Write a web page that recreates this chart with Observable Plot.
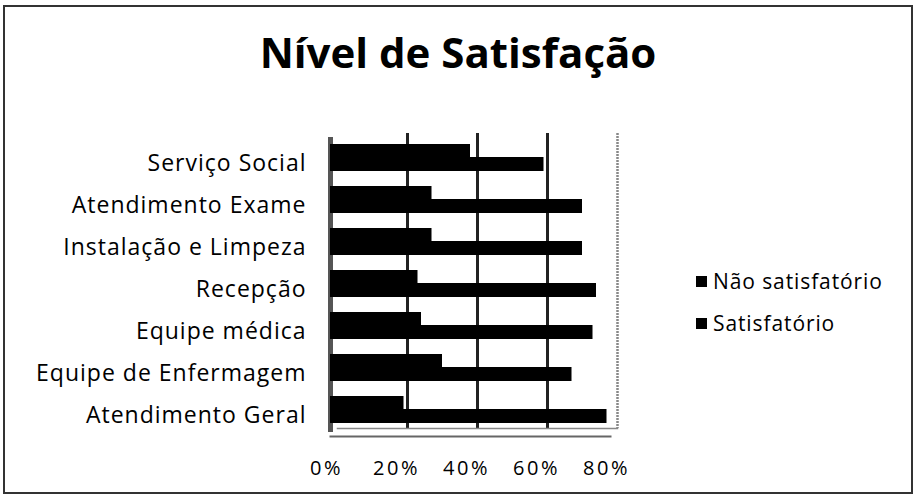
<!DOCTYPE html>
<html>
<head>
<meta charset="utf-8">
<script src="https://cdn.jsdelivr.net/npm/d3@7"></script>
<script src="https://cdn.jsdelivr.net/npm/@observablehq/plot@0.6"></script>
<style>
  html, body { margin: 0; padding: 0; background: #fff; }
  #wrap { position: relative; width: 916px; height: 498px; overflow: hidden; font-family: "Open Sans", sans-serif; }
  #border { position: absolute; left: 3px; top: 5px; width: 906px; height: 485px; border: 2px solid #333; pointer-events: none; }
  #title { position: absolute; left: 0; width: 916px; top: 23px; text-align: center; font-size: 42px; font-weight: 700; color: #000; }
  #chart { position: absolute; left: 0; top: 0; }
  .leg { position: absolute; left: 696px; font-size: 21px; letter-spacing: 0.9px; color: #000; display: flex; align-items: center; }
  .leg span.sw { display: inline-block; width: 11px; height: 11px; background: #000; margin-right: 6px; }
</style>
</head>
<body>
<div id="wrap">
  <div id="chart"></div>
  <div id="title">Nível de Satisfação</div>
  <div class="leg" id="leg1" style="top:267px"><span class="sw"></span><span class="lt"></span></div>
  <div class="leg" id="leg2" style="top:309px"><span class="sw"></span><span class="lt"></span></div>
  <div id="border"></div>
</div>
<script>
const categories = ["Serviço Social", "Atendimento Exame", "Instalação e Limpeza", "Recepção", "Equipe médica", "Equipe de Enfermagem", "Atendimento Geral"];
const seriesNames = ["Não satisfatório", "Satisfatório"];
const naoSatisfatorio = [0.40, 0.29, 0.29, 0.25, 0.26, 0.32, 0.21];
const satisfatorio = [0.61, 0.72, 0.72, 0.76, 0.75, 0.69, 0.79];
const xTicks = [0, 0.2, 0.4, 0.6, 0.8];

const nao = categories.map((c, i) => ({cat: c, value: naoSatisfatorio[i]}));
const sat = categories.map((c, i) => ({cat: c, value: satisfatorio[i]}));

const plot = Plot.plot({
  width: 916,
  height: 498,
  marginLeft: 330,
  marginRight: 306,
  marginTop: 141,
  marginBottom: 62,
  style: {fontFamily: "'Open Sans', sans-serif", background: "transparent"},
  x: {domain: [0, 0.8], ticks: xTicks, tickFormat: d3.format(".0%")},
  y: {domain: categories, padding: 0},
  marks: [
    // back-wall gridlines
    Plot.ruleX(xTicks.slice(1, 4), {stroke: "#222", strokeWidth: 3, dx: 7, dy: -8}),
    Plot.ruleX([0.8], {stroke: "#888", strokeWidth: 2.5, strokeDasharray: "2,1", dx: 7, dy: -8}),
    Plot.ruleX([0], {stroke: "#555", strokeWidth: 5, dy: -4}),
    Plot.frame({anchor: "bottom", stroke: "#666", strokeWidth: 2}),
    Plot.frame({anchor: "bottom", stroke: "#888", strokeWidth: 1.5, dx: 7, dy: -8}),
    Plot.barX(sat, {x: "value", y: "cat", fill: "#000", insetTop: 15, insetBottom: 13}),
    Plot.barX(nao, {x: "value", y: "cat", fill: "#000", insetTop: 2, insetBottom: 27}),
    Plot.axisY({tickSize: 0, tickPadding: 24, fontSize: 23, textAnchor: "end", fill: "#000", label: null}),
    Plot.axisX({ticks: xTicks, tickFormat: d3.format(".0%"), tickSize: 0, tickPadding: 24, fontSize: 20, dx: -4, fill: "#000", label: null})
  ]
});
d3.select(plot).selectAll("g[aria-label='y-axis tick label'] text").attr("letter-spacing", "1px");
d3.select(plot).selectAll("g[aria-label='x-axis tick label'] text").attr("letter-spacing", "2.5px");
document.getElementById("chart").appendChild(plot);
document.querySelector("#leg1 .lt").textContent = seriesNames[0];
document.querySelector("#leg2 .lt").textContent = seriesNames[1];
</script>
</body>
</html>
